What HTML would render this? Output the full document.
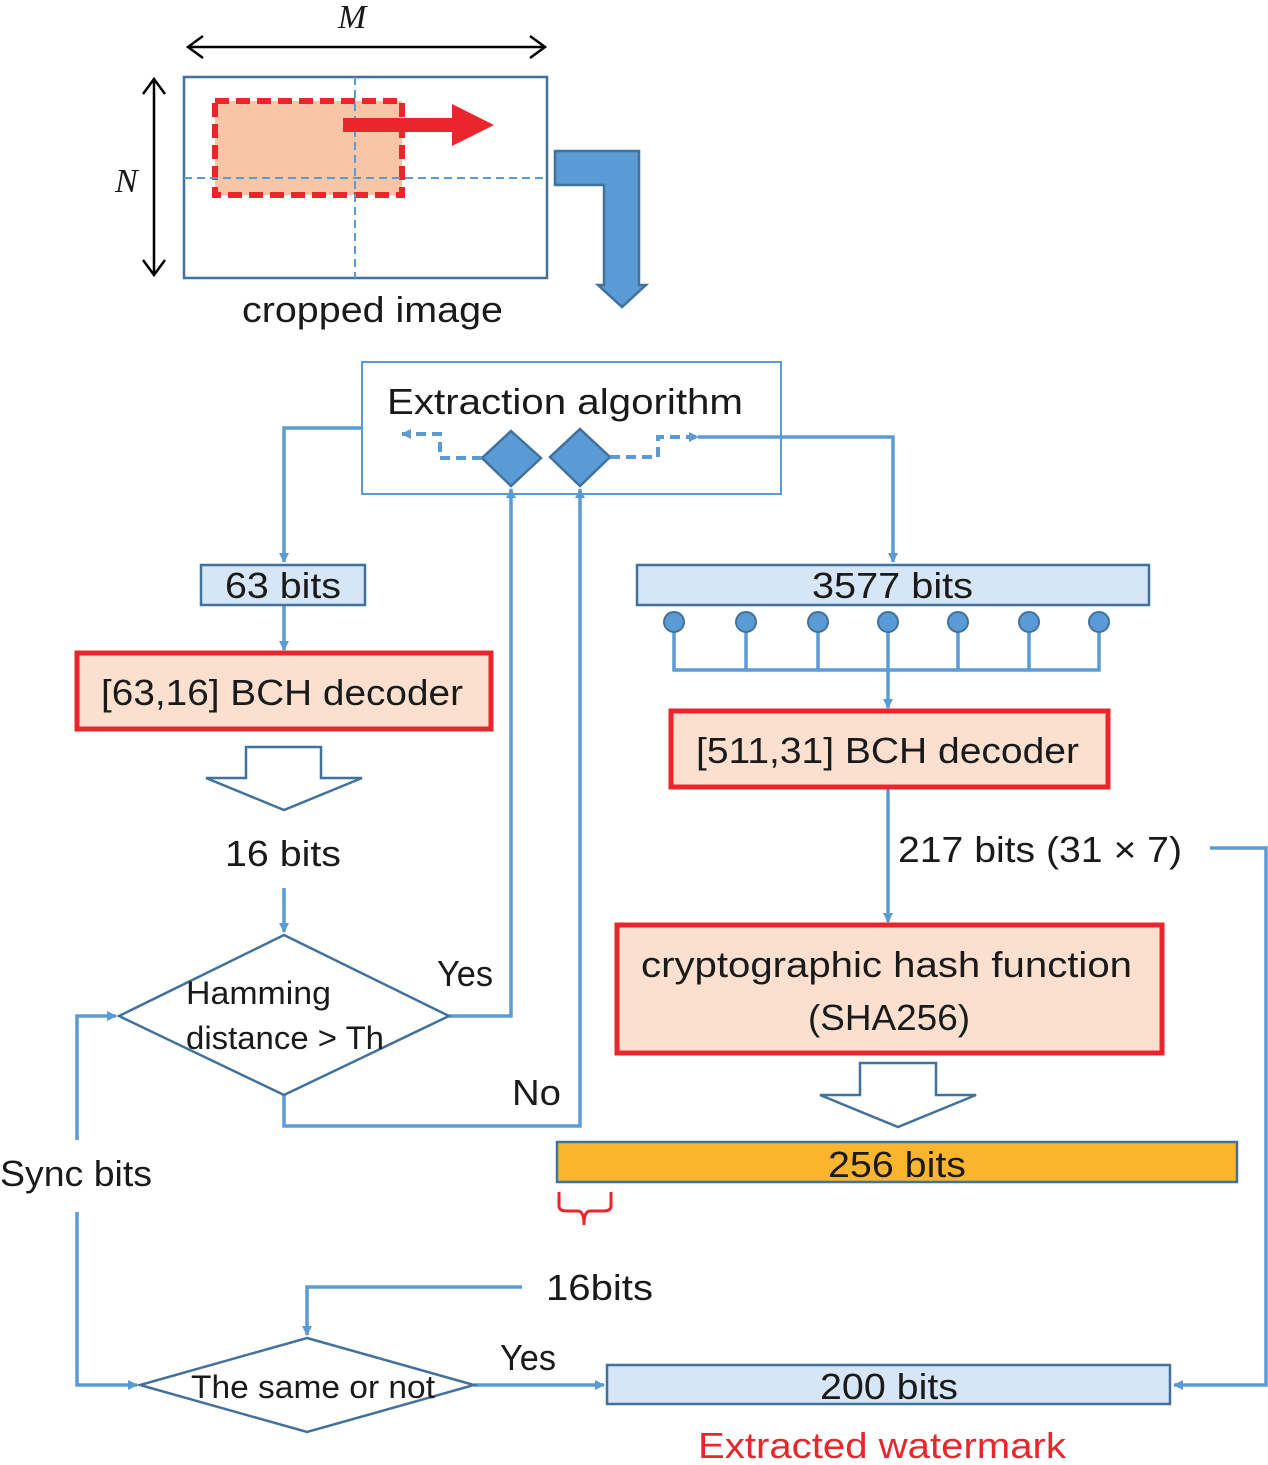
<!DOCTYPE html>
<html><head><meta charset="utf-8"><style>
html,body{margin:0;padding:0;background:#fff}
text{font-family:"Liberation Sans",sans-serif;fill:#1a1a1a}
</style></head><body>
<svg width="1268" height="1460" viewBox="0 0 1268 1460" xmlns="http://www.w3.org/2000/svg">
<defs>
<marker id="ah" markerWidth="10" markerHeight="10" refX="9" refY="5" orient="auto" markerUnits="userSpaceOnUse" viewBox="0 0 10 10"><path d="M0,0 L10,5 L0,10z" fill="#5b9bd5"/></marker>
</defs>
<!-- top: dimension arrows -->
<g fill="none" stroke="#000" stroke-width="2.5">
<line x1="188" y1="47" x2="545" y2="47"/>
<path d="M203,36 L188,47 L203,58 M530,36 L545,47 L530,58"/>
<line x1="154" y1="79" x2="154" y2="275"/>
<path d="M143,94 L154,79 L165,94 M143,260 L154,275 L165,260"/>
</g>
<text x="338" y="28" font-size="34" font-style="italic" style="font-family:'Liberation Serif',serif">M</text>
<text x="115" y="192" font-size="34" font-style="italic" style="font-family:'Liberation Serif',serif">N</text>
<rect x="184" y="77" width="363" height="201" fill="#fff" stroke="#41719c" stroke-width="2.5"/>
<rect x="215" y="101" width="187" height="94" fill="#f8c5a6" stroke="#e8262c" stroke-width="6" stroke-dasharray="14,7"/>
<line x1="355" y1="77" x2="355" y2="278" stroke="#5b9bd5" stroke-width="2" stroke-dasharray="8,5"/>
<line x1="184" y1="178" x2="547" y2="178" stroke="#5b9bd5" stroke-width="2" stroke-dasharray="8,5"/>
<path d="M343,118 L452,118 L452,104 L494,125 L452,146 L452,132 L343,132z" fill="#e8262c"/>
<text x="242" y="322" font-size="36" textLength="261" lengthAdjust="spacingAndGlyphs">cropped image</text>
<path d="M555,151 L639,151 L639,285 L646,285 L622,307 L598,285 L604,285 L604,185 L555,185z" fill="#5b9bd5" stroke="#41719c" stroke-width="2.5"/>
<!-- extraction box -->
<rect x="362" y="362" width="419" height="132" fill="#fff" stroke="#5b9bd5" stroke-width="2"/>
<text x="387" y="414" font-size="36" textLength="356" lengthAdjust="spacingAndGlyphs">Extraction algorithm</text>
<path d="M511,431 L541,458 L511,486 L482,458z" fill="#5b9bd5" stroke="#41719c" stroke-width="2.5"/>
<path d="M580,429 L610,457 L580,486 L550,457z" fill="#5b9bd5" stroke="#41719c" stroke-width="2.5"/>
<path d="M482,458 L440,458 L440,434 L402,434" fill="none" stroke="#5b9bd5" stroke-width="4" stroke-dasharray="10,6" marker-end="url(#ah)"/>
<path d="M610,457 L658,457 L658,437 L698,437" fill="none" stroke="#5b9bd5" stroke-width="4" stroke-dasharray="10,6" marker-end="url(#ah)"/>
<g fill="none" stroke="#5b9bd5" stroke-width="3.5">
<path d="M698,437 L893,437 L893,562" marker-end="url(#ah)"/>
<path d="M362,428 L284,428 L284,562" marker-end="url(#ah)"/>
<path d="M284,606 L284,650" marker-end="url(#ah)"/>
<path d="M284,888 L284,932" marker-end="url(#ah)"/>
<path d="M449,1016 L511,1016 L511,489" marker-end="url(#ah)"/>
<path d="M284,1095 L284,1126 L580,1126 L580,489" marker-end="url(#ah)"/>
<path d="M674,622 L674,670 L1099,670 L1099,622 M746,622 L746,670 M818,622 L818,670 M958,622 L958,670 M1029,622 L1029,670"/>
<path d="M888,622 L888,708" marker-end="url(#ah)"/>
<path d="M888,788 L888,922" marker-end="url(#ah)"/>
<path d="M1210,848 L1266,848 L1266,1385 L1174,1385" marker-end="url(#ah)"/>
<path d="M77,1140 L77,1016 L116,1016" marker-end="url(#ah)"/>
<path d="M77,1212 L77,1385 L137,1385" marker-end="url(#ah)"/>
<path d="M522,1287 L307,1287 L307,1335" marker-end="url(#ah)"/>
<path d="M474,1385 L604,1385" marker-end="url(#ah)"/>
</g>
<!-- left column -->
<rect x="201" y="565" width="164" height="40" fill="#d6e6f6" stroke="#41719c" stroke-width="2.5"/>
<text x="225" y="598" font-size="36" textLength="116" lengthAdjust="spacingAndGlyphs">63 bits</text>
<rect x="77" y="653" width="414" height="76" fill="#fbe0d0" stroke="#e8262c" stroke-width="5"/>
<text x="101" y="705" font-size="36" textLength="362" lengthAdjust="spacingAndGlyphs">[63,16] BCH decoder</text>
<path d="M246,747 L321,747 L321,778 L362,778 L284,810 L206,778 L246,778z" fill="#fff" stroke="#41719c" stroke-width="2.5"/>
<text x="225" y="866" font-size="36" textLength="116" lengthAdjust="spacingAndGlyphs">16 bits</text>
<path d="M284,935 L449,1016 L284,1095 L119,1016z" fill="#fff" stroke="#41719c" stroke-width="2.5"/>
<text x="186" y="1004" font-size="32" textLength="145" lengthAdjust="spacingAndGlyphs">Hamming</text>
<text x="186" y="1049" font-size="32" textLength="198" lengthAdjust="spacingAndGlyphs">distance &gt; Th</text>
<text x="437" y="986" font-size="36" textLength="56" lengthAdjust="spacingAndGlyphs">Yes</text>
<text x="512" y="1105" font-size="36" textLength="49" lengthAdjust="spacingAndGlyphs">No</text>
<text x="0" y="1186" font-size="36" textLength="152" lengthAdjust="spacingAndGlyphs">Sync bits</text>
<!-- right column -->
<rect x="637" y="565" width="512" height="40" fill="#d6e6f6" stroke="#41719c" stroke-width="2.5"/>
<text x="812" y="598" font-size="36" textLength="161" lengthAdjust="spacingAndGlyphs">3577 bits</text>
<g fill="#5b9bd5" stroke="#41719c" stroke-width="2">
<circle cx="674" cy="622" r="10"/><circle cx="746" cy="622" r="10"/><circle cx="818" cy="622" r="10"/><circle cx="888" cy="622" r="10"/><circle cx="958" cy="622" r="10"/><circle cx="1029" cy="622" r="10"/><circle cx="1099" cy="622" r="10"/>
</g>
<rect x="671" y="711" width="437" height="76" fill="#fbe0d0" stroke="#e8262c" stroke-width="5"/>
<text x="696" y="763" font-size="36" textLength="383" lengthAdjust="spacingAndGlyphs">[511,31] BCH decoder</text>
<text x="898" y="862" font-size="36" textLength="284" lengthAdjust="spacingAndGlyphs">217 bits (31 × 7)</text>
<rect x="617" y="925" width="545" height="128" fill="#fbe0d0" stroke="#e8262c" stroke-width="5"/>
<text x="641" y="977" font-size="36" textLength="491" lengthAdjust="spacingAndGlyphs">cryptographic hash function</text>
<text x="808" y="1030" font-size="36" textLength="162" lengthAdjust="spacingAndGlyphs">(SHA256)</text>
<path d="M860,1063 L936,1063 L936,1095 L976,1095 L898,1127 L820,1095 L860,1095z" fill="#fff" stroke="#41719c" stroke-width="2.5"/>
<rect x="557" y="1142" width="680" height="40" fill="#fab52f" stroke="#41719c" stroke-width="2.5"/>
<text x="828" y="1177" font-size="36" textLength="138" lengthAdjust="spacingAndGlyphs">256 bits</text>
<path d="M559,1192 L559,1206 Q559,1211 567,1211 L578,1211 Q584,1211 584,1225 Q584,1211 590,1211 L603,1211 Q611,1211 611,1206 L611,1192" fill="none" stroke="#e8262c" stroke-width="3"/>
<text x="546" y="1300" font-size="36" textLength="107" lengthAdjust="spacingAndGlyphs">16bits</text>
<path d="M307,1338 L474,1385 L307,1432 L140,1385z" fill="#fff" stroke="#41719c" stroke-width="2.5"/>
<text x="191" y="1398" font-size="32" textLength="244" lengthAdjust="spacingAndGlyphs">The same or not</text>
<text x="500" y="1370" font-size="36" textLength="56" lengthAdjust="spacingAndGlyphs">Yes</text>
<rect x="607" y="1365" width="563" height="39" fill="#d6e6f6" stroke="#41719c" stroke-width="2.5"/>
<text x="820" y="1399" font-size="36" textLength="138" lengthAdjust="spacingAndGlyphs">200 bits</text>
<text x="698" y="1458" font-size="36" textLength="368" lengthAdjust="spacingAndGlyphs" style="fill:#e8262c">Extracted watermark</text>
</svg>
</body></html>
